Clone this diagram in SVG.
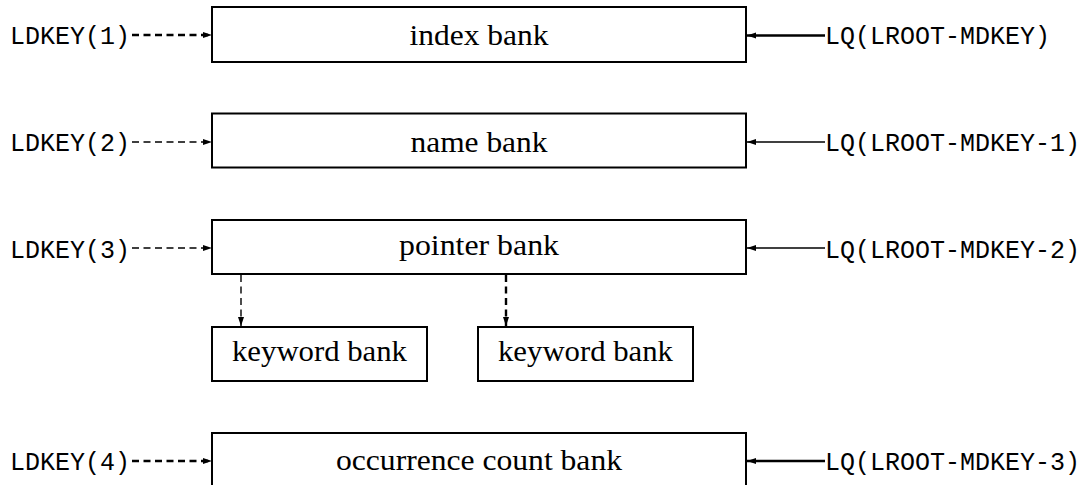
<svg xmlns="http://www.w3.org/2000/svg" width="1088" height="485" viewBox="0 0 1088 485">
  <style>
    .box { fill: #fff; stroke: #000; stroke-width: 2; }
    .lbl { font-family: "Liberation Serif", "Times New Roman", serif; font-size: 30px; fill: #000; text-anchor: middle; }
    .ptr { font-family: "Liberation Mono", "Courier New", monospace; font-size: 25px; fill: #000; }
    .dash { fill: none; stroke: #000; stroke-dasharray: 7 4.5; marker-end: url(#head); }
    .solid { fill: none; stroke: #000; marker-end: url(#head); }
    .thick { stroke-width: 2.4; }
    .thin { stroke-width: 1.4; }
  </style>
  <defs>
    <marker id="head" markerUnits="userSpaceOnUse" markerWidth="10" markerHeight="7" refX="9" refY="3" orient="auto">
      <path d="M0,0 L9,3 L0,6 z" fill="#000"/>
    </marker>
  </defs>

  <rect width="1088" height="485" fill="#fff"/>

  <!-- banks -->
  <g id="index-bank">
    <rect class="box" x="212" y="7" width="534" height="55"/>
    <text class="lbl" x="479" y="45" textLength="139" lengthAdjust="spacingAndGlyphs">index bank</text>
  </g>
  <g id="name-bank">
    <rect class="box" x="212" y="113.5" width="534" height="54"/>
    <text class="lbl" x="479" y="151.5" textLength="137" lengthAdjust="spacingAndGlyphs">name bank</text>
  </g>
  <g id="pointer-bank">
    <rect class="box" x="212" y="220" width="534" height="54"/>
    <text class="lbl" x="479" y="255" textLength="160" lengthAdjust="spacingAndGlyphs">pointer bank</text>
  </g>
  <g id="keyword-bank-1">
    <rect class="box" x="212" y="327" width="215" height="54"/>
    <text class="lbl" x="319.5" y="361" textLength="175" lengthAdjust="spacingAndGlyphs">keyword bank</text>
  </g>
  <g id="keyword-bank-2">
    <rect class="box" x="478" y="327" width="215" height="54"/>
    <text class="lbl" x="585.5" y="361" textLength="175" lengthAdjust="spacingAndGlyphs">keyword bank</text>
  </g>
  <g id="occurrence-count-bank">
    <rect class="box" x="212" y="433" width="534" height="60"/>
    <text class="lbl" x="479" y="470" textLength="286" lengthAdjust="spacingAndGlyphs">occurrence count bank</text>
  </g>

  <!-- link names -->
  <g id="ldkey-labels">
    <text class="ptr" x="10" y="44">LDKEY(1)</text>
    <text class="ptr" x="10" y="151">LDKEY(2)</text>
    <text class="ptr" x="10" y="257.5">LDKEY(3)</text>
    <text class="ptr" x="10" y="470">LDKEY(4)</text>
  </g>
  <g id="lq-labels">
    <text class="ptr" x="825" y="44">LQ(LROOT-MDKEY)</text>
    <text class="ptr" x="825" y="151">LQ(LROOT-MDKEY-1)</text>
    <text class="ptr" x="825" y="257.5">LQ(LROOT-MDKEY-2)</text>
    <text class="ptr" x="825" y="470">LQ(LROOT-MDKEY-3)</text>
  </g>

  <!-- connectors -->
  <g id="connectors">
    <line class="dash thick" x1="132" y1="35" x2="212" y2="35"/>
    <line class="dash thin" x1="132" y1="142" x2="212" y2="142"/>
    <line class="dash thin" x1="132" y1="248" x2="212" y2="248"/>
    <line class="dash thick" x1="132" y1="461" x2="212" y2="461"/>

    <line class="solid thick" x1="825" y1="35.5" x2="747" y2="35.5"/>
    <line class="solid thin" x1="825" y1="142" x2="747" y2="142"/>
    <line class="solid thin" x1="825" y1="248" x2="747" y2="248"/>
    <line class="solid thick" x1="825" y1="461" x2="747" y2="461"/>

    <line class="dash thin" x1="241" y1="275" x2="241" y2="326"/>
    <line class="dash thick" x1="506" y1="275" x2="506" y2="326"/>
  </g>
</svg>
